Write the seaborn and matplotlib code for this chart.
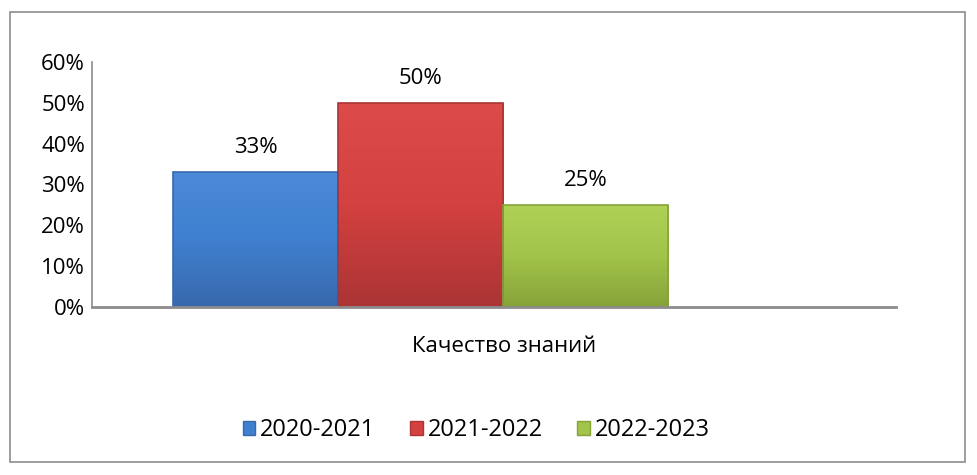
import numpy as np
import pandas as pd
import matplotlib
matplotlib.use("Agg")
import matplotlib.pyplot as plt
import seaborn as sns
from matplotlib.patches import Rectangle
from matplotlib.colors import LinearSegmentedColormap

# ====================== DATA ======================
categories = ["Качество знаний"]
years = ["2020-2021", "2021-2022", "2022-2023"]
values = [0.33, 0.50, 0.25]
value_labels = ["33%", "50%", "25%"]
y_ticks = [0.0, 0.1, 0.2, 0.3, 0.4, 0.5, 0.6]

# main / dark (bottom) / light (top) tones, like the Excel bevel fill
colors = ["#4080d0", "#d34140", "#a2c44a"]
colors_dark = ["#3769ab", "#ab3434", "#86a33a"]
colors_light = ["#4a8ad8", "#dc4a49", "#aed156"]

df = pd.DataFrame({
    "category": categories * len(years),
    "year": years,
    "value": values,
})

sns.set_style("white")
plt.rcParams["font.family"] = ["Open Sans", "DejaVu Sans"]
plt.rcParams["text.color"] = "black"
plt.rcParams["ytick.color"] = "black"
plt.rcParams["axes.labelcolor"] = "black"
FS = 16

fig = plt.figure(figsize=(9.77, 4.75), dpi=100)
ax = fig.add_axes([92 / 977, 168 / 475, (896 - 92) / 977, (307 - 62) / 475])

sns.barplot(data=df, x="category", y="value", hue="year",
            palette=colors, width=0.8, gap=0, saturation=1,
            edgecolor="none", ax=ax, legend=False)

ax.set_xlim(-0.531, 0.768)
ax.set_ylim(0, 0.6)

# gradient fill clipped to each bar
for bar, c_top, c_bot, c_mid in zip(ax.patches, colors_light, colors_dark, colors):
    x0, y0 = bar.get_x(), bar.get_y()
    w, h = bar.get_width(), bar.get_height()
    cmap = LinearSegmentedColormap.from_list("g", [c_bot, c_mid, c_top])
    grad = np.linspace(0, 1, 256).reshape(-1, 1)
    im = ax.imshow(grad, extent=[x0, x0 + w, y0, y0 + h], origin="lower",
                   aspect="auto", cmap=cmap, zorder=bar.get_zorder() + 0.1)
    im.set_clip_path(bar)
    ax.add_patch(Rectangle((x0, y0), w, h, fill=False, edgecolor=c_bot,
                           linewidth=1.2, zorder=bar.get_zorder() + 0.2))
ax.set_xlim(-0.531, 0.768)
ax.set_ylim(0, 0.6)

# value labels above bars
for bar, lab in zip(ax.patches, value_labels):
    ax.text(bar.get_x() + bar.get_width() / 2, bar.get_height() + 0.035, lab,
            ha="center", va="bottom", fontsize=FS, color="black")

ax.set_yticks(y_ticks)
ax.set_yticklabels([f"{int(round(t * 100))}%" for t in y_ticks], fontsize=FS)
ax.tick_params(axis="y", length=0, pad=5, labelcolor="black")
ax.set_xticks([])
ax.set_ylabel("")
ax.set_xlabel(categories[0], fontsize=FS, color="black")
ax.xaxis.set_label_coords(0.512, -0.12)

for side in ["top", "right"]:
    ax.spines[side].set_visible(False)
ax.spines["left"].set_color("#8c8c8c")
ax.spines["bottom"].set_color("#8c8c8c")
ax.spines["left"].set_linewidth(1.2)
ax.spines["bottom"].set_linewidth(2)

# legend
handles = [Rectangle((0, 0), 1, 1, facecolor=c, edgecolor=d, linewidth=1)
           for c, d in zip(colors, colors_dark)]
fig.legend(handles, years, loc="center", bbox_to_anchor=(476 / 977, 1 - 430 / 475),
           ncol=3, frameon=False, fontsize=17, handlelength=0.55, handleheight=0.55,
           handletextpad=0.2, columnspacing=1.45)

# outer chart border
fig.patches.append(Rectangle((10 / 977, 1 - 462 / 475), 955 / 977, 450 / 475,
                             transform=fig.transFigure, fill=False,
                             edgecolor="#8c8c8c", linewidth=1.2))

fig.savefig("out.png", dpi=100)
